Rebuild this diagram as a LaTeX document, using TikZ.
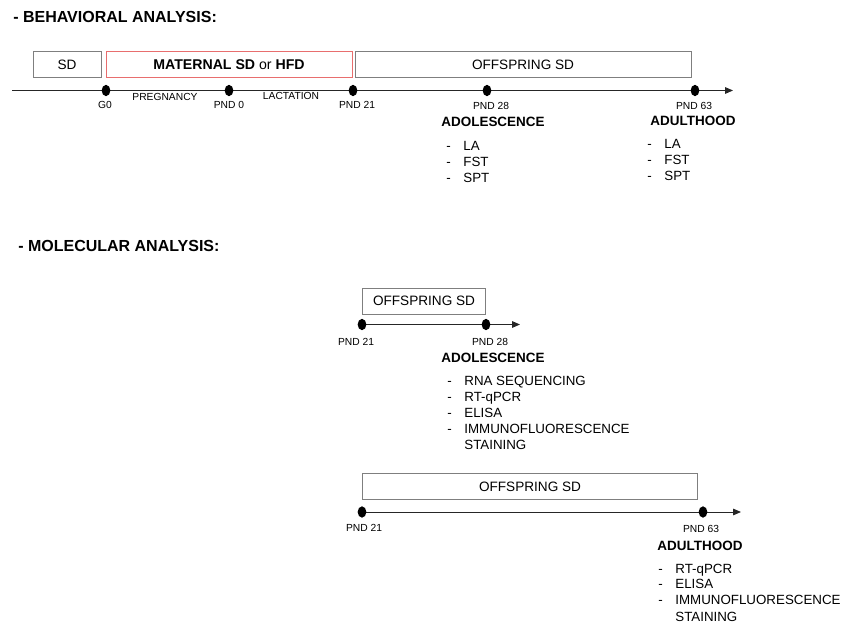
\documentclass[tikz,border=0pt]{standalone}
\usepackage{fontspec}
\setmainfont{Liberation Sans}
\usetikzlibrary{arrows.meta,shapes.geometric,positioning}

\definecolor{boxgray}{RGB}{127,127,127}
\definecolor{boxred}{RGB}{232,110,110}

\newcommand{\tests}[1]{\begin{tabular}[t]{@{}l@{\hspace{9.5pt}}l@{}}#1\end{tabular}}

\begin{document}
\begin{tikzpicture}[x=0.75pt,y=-0.75pt,
  box/.style={draw=boxgray,line width=0.7pt,minimum height=19pt,inner sep=0pt,font=\fontsize{10.2}{12}\selectfont},
  dot/.style={ellipse,fill=black,minimum width=6.5pt,minimum height=8.5pt,inner sep=0pt},
  small/.style={font=\fontsize{7.7}{9}\selectfont,inner sep=0pt},
  stage/.style={font=\bfseries\fontsize{10.1}{12}\selectfont,inner sep=0pt},
  head/.style={font=\bfseries\fontsize{12}{14}\selectfont,anchor=west,inner sep=0pt},
  list/.style={font=\fontsize{10}{12}\selectfont,anchor=base west,inner sep=0pt},
  timeline/.style={draw=black!85,line width=0.65pt,-{Triangle[length=6pt,width=5pt]}}]
	 \useasboundingbox (0,0) rectangle (843,623);

	 % behavioral analysis
	 \node at (13,17) [head] (behav) {- BEHAVIORAL ANALYSIS:};
	 \node at (67,64.5) [box,minimum width=51pt] (sd) {SD};
	 \node at (523,64.5) [box,minimum width=252pt] (offspring) {OFFSPRING SD};
	 \node at (229,64.5) [box,draw=boxred,minimum width=184.5pt,font=\fontsize{10.6}{12}\selectfont] (maternal) {\textbf{MATERNAL SD} or \textbf{HFD}};

	 \coordinate (start) at (12,90.5);
	 \coordinate (end) at (733,90.5);
	 \draw[timeline] (start) -- (end);
	 \node at (106,90.5) [dot] (g0) {};
	 \node at (229,90.5) [dot] (pnd0) {};
	 \node at (353,90.5) [dot] (pnd21) {};
	 \node at (487,90.5) [dot] (pnd28) {};
	 \node at (695,90.5) [dot] (pnd63) {};

	 \node at (105,105) [small] (g0lab) {G0};
	 \node at (165,97) [small] (preg) {PREGNANCY};
	 \node at (229,104.5) [small] (pnd0lab) {PND 0};
	 \node at (291,96) [small] (lact) {LACTATION};
	 \node at (357,104.5) [small] (pnd21lab) {PND 21};
	 \node at (491,106) [small] (pnd28lab) {PND 28};
	 \node at (694,106) [small] (pnd63lab) {PND 63};

	 \node at (493,122) [stage] (adol) {ADOLESCENCE};
	 \node at (693,121) [stage] (adult) {ADULTHOOD};
	 \node at (446,151) [list] (adoltests) {\tests{- & LA\\ - & FST\\ - & SPT}};
	 \node at (647,149) [list] (adulttests) {\tests{- & LA\\ - & FST\\ - & SPT}};

	 % molecular analysis
	 \node at (18,245.5) [head] (molec) {- MOLECULAR ANALYSIS:};

	 \node at (424,301) [box,minimum width=92.5pt,minimum height=19.5pt] (offadol) {OFFSPRING SD};
	 \coordinate (startA) at (362,324.5);
	 \coordinate (endA) at (520,324.5);
	 \draw[timeline] (startA) -- (endA);
	 \node at (362,324.5) [dot] (mpnd21) {};
	 \node at (486,324.5) [dot] (mpnd28) {};
	 \node at (356,342) [small] (mpnd21lab) {PND 21};
	 \node at (490,342) [small] (mpnd28lab) {PND 28};
	 \node at (493,358) [stage] (madol) {ADOLESCENCE};
	 \node at (447,386) [list] (madoltests) {\tests{- & RNA SEQUENCING\\ - & RT-qPCR\\ - & ELISA\\ - & IMMUNOFLUORESCENCE\\ & STAINING}};

	 \node at (530,486.5) [box,minimum width=251.5pt,minimum height=20pt] (offadult) {OFFSPRING SD};
	 \coordinate (startB) at (362,512);
	 \coordinate (endB) at (741,512);
	 \draw[timeline] (startB) -- (endB);
	 \node at (362,512) [dot] (npnd21) {};
	 \node at (703,512) [dot] (npnd63) {};
	 \node at (364,528) [small] (npnd21lab) {PND 21};
	 \node at (701,529) [small] (npnd63lab) {PND 63};
	 \node at (700,546) [stage] (nadult) {ADULTHOOD};
	 \node at (658,573) [list] (nadulttests) {\tests{- & RT-qPCR\\ - & ELISA\\ - & IMMUNOFLUORESCENCE\\ & STAINING}};

\end{tikzpicture}
\end{document}
